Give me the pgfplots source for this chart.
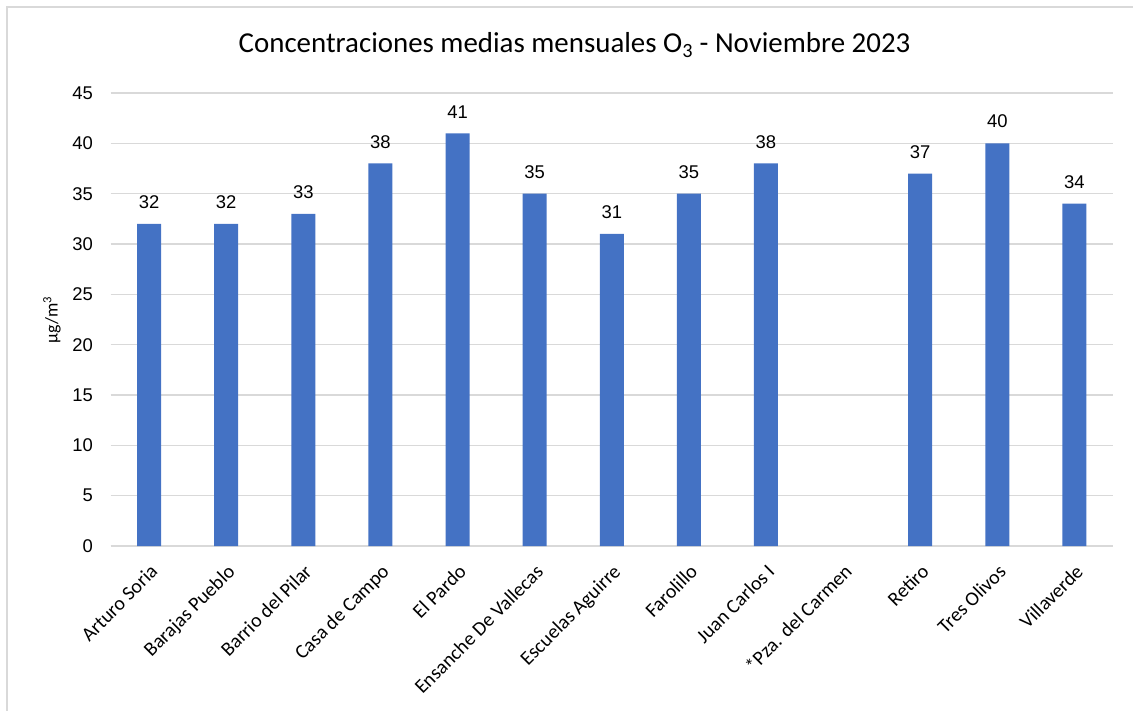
\documentclass[border=0pt]{standalone}
\usepackage{pgfplots}
\pgfplotsset{compat=1.18}
\usepackage{fontspec}
\setmainfont{Carlito}
\newfontfamily\numfont{Liberation Sans}
\definecolor{barblue}{HTML}{4472C4}
\definecolor{gridgray}{HTML}{D9D9D9}
\begin{document}
\begin{tikzpicture}[x=1bp,y=1bp]
\begin{scope}
\clip (0,0) rectangle (1133,-711);
\draw[gridgray, line width=1.5bp] (7,-730) -- (7,-7) -- (1150,-7);
\end{scope}
\node[anchor=base, inner sep=0pt, font=\fontsize{29}{33}\selectfont] at (574.5,-53) {Concentraciones medias mensuales O\textsubscript{3} - Noviembre 2023};
\node[rotate=90, inner sep=0pt, font=\fontsize{18}{20}\selectfont] at (52,-320) {µg/m\textsuperscript{3}};
\begin{axis}[
  at={(110.5bp,-546bp)}, anchor=south west,
  scale only axis, width=1002.5bp, height=453bp,
  xmin=-0.5, xmax=12.5, ymin=0, ymax=45,
  ytick={0,5,...,45},
  xtick={0,...,12},
  xticklabels={Arturo Soria, Barajas Pueblo, Barrio del Pilar, Casa de Campo, El Pardo, Ensanche De Vallecas, Escuelas Aguirre, Farolillo, Juan Carlos I, *Pza. del Carmen, Retiro, Tres Olivos, Villaverde},
  axis lines=left,
  axis line style={-},
  y axis line style={draw=none},
  x axis line style={gridgray, line width=1.5bp},
  major tick length=0pt,
  ymajorgrids,
  grid style={gridgray, line width=1.3bp},
  /pgf/number format/assume math mode=true,
  yticklabel style={font=\numfont\fontsize{18.5}{20}\selectfont, inner sep=0pt, xshift=-17.5bp},
  xticklabel style={font=\fontsize{20}{22}\selectfont, inner sep=0pt, anchor=north east, rotate=45},
  xticklabel shift=17bp,
  ybar, bar width=24bp,
  nodes near coords,
  every node near coord/.append style={font=\numfont\fontsize{18.5}{20}\selectfont, inner sep=0pt, yshift=15bp, text=black},
  clip=false,
]
\addplot[fill=barblue, draw=none] coordinates {
(0,32) (1,32) (2,33) (3,38) (4,41) (5,35) (6,31) (7,35) (8,38) (10,37) (11,40) (12,34)
};
\end{axis}
\pgfresetboundingbox
\useasboundingbox (0,0) rectangle (1133,-711);
\end{tikzpicture}
\end{document}
